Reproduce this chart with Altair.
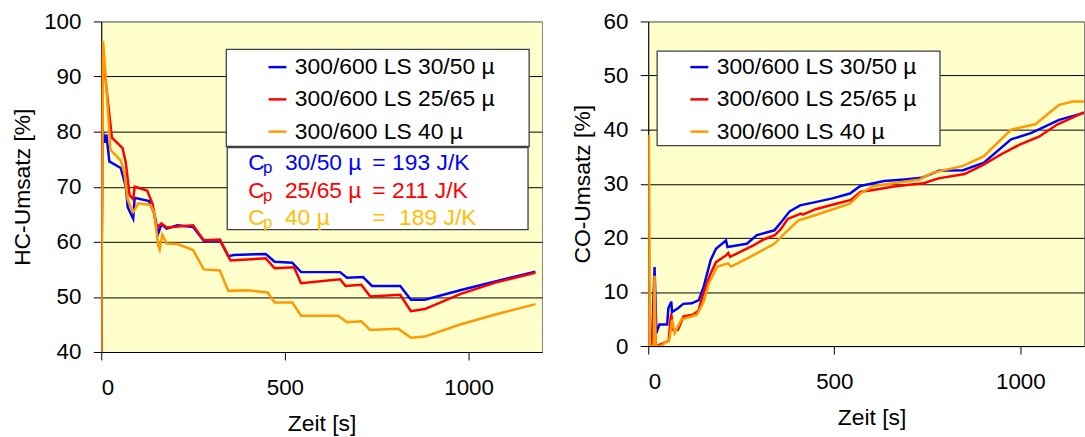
import altair as alt
import pandas as pd

FONT = "Liberation Sans"

S1 = "300/600 LS 30/50 µ"
S2 = "300/600 LS 25/65 µ"
S3 = "300/600 LS 40 µ"
SERIES = [S1, S2, S3]
COLORS = ["#0000FF", "#FF0000", "#FF9900"]

# ---- HC-Umsatz (left panel) ----
hc_t_blue = [0, 3, 10, 14, 22, 53, 67, 72, 87, 91, 130, 145, 155, 164, 178, 207, 250, 279, 323, 346, 361,
             448, 472, 520, 544, 650, 669, 713, 737, 814, 843, 881, 977, 1073, 1182]
hc_blue = [40, 80.6, 78, 79.5, 74.6, 73.4, 70, 66.3, 64.2, 68, 67.4, 65, 61.5, 63.2, 62.4, 63, 62.7, 60.2, 60.3,
           57.4, 57.6, 57.8, 56.4, 56.2, 54.5, 54.5, 53.5, 53.6, 52, 52, 49.5, 49.5, 51.2, 52.8, 54.6]

hc_t_red = [0, 4, 14, 29, 58, 67, 77, 87, 91, 125, 140, 150, 164, 178, 250, 279, 323, 352, 448, 472, 525, 544,
            650, 665, 708, 732, 814, 843, 881, 977, 1073, 1182]
hc_red = [40, 95, 88, 78.9, 77, 74.3, 68.5, 67.7, 70, 69.3, 66.8, 62.6, 63.3, 62.6, 63, 60.3, 60.4, 56.6, 57,
          55.2, 55.4, 52.5, 53.2, 52, 52.2, 50.1, 50.4, 47.4, 47.8, 50.5, 52.6, 54.4]

hc_t_orange = [0, 5, 11, 25, 53, 63, 72, 87, 101, 135, 145, 155, 159, 166, 178, 207, 250, 279, 323, 346, 400,
               453, 472, 520, 544, 645, 669, 708, 732, 809, 843, 881, 977, 1073, 1182]
hc_orange = [40, 96.5, 91, 76.7, 74.8, 72.5, 67.6, 65.4, 67, 66.7, 65, 59.3, 58.6, 61.3, 59.7, 59.6, 58.5, 55,
             54.8, 51.1, 51.2, 50.8, 49, 49, 46.6, 46.6, 45.4, 45.6, 44, 44.2, 42.6, 42.8, 45, 46.8, 48.7]

# ---- CO-Umsatz (right panel) ----
co_t_blue = [0, 10, 17, 22, 30, 51, 54, 62, 64, 80, 94, 117, 136, 149, 168, 182, 209, 213, 237, 265, 292, 339,
             357, 380, 408, 449, 495, 542, 570, 634, 689, 735, 781, 846, 902, 975, 1030, 1104, 1171]
co_blue = [0, 0, 14.6, 2.4, 4, 4, 7, 8.2, 6.3, 7, 7.8, 7.9, 8.5, 11, 15.9, 18, 19.5, 18.3, 18.6, 18.9, 20.5,
           21.4, 22.9, 24.9, 26, 26.6, 27.3, 28.2, 29.6, 30.5, 30.8, 31.1, 32.4, 32.5, 33.9, 38.2, 39.4, 41.8, 43.1]

co_t_red = [0, 2, 5, 12, 17, 20, 40, 55, 60, 62, 66, 80, 95, 120, 135, 145, 165, 182, 210, 215, 220, 250, 280,
            310, 340, 355, 375, 410, 415, 450, 500, 545, 570, 600, 660, 700, 740, 780, 850, 900, 950, 1000,
            1050, 1100, 1171]
co_red = [0, 8, 0, 0, 13, 0, 0.5, 1, 5, 6, 3, 3, 5.5, 5.8, 6.5, 9, 13, 15.5, 16.8, 17.2, 16.5, 17.5, 18.5,
          19.7, 20.5, 21.5, 23.5, 24.5, 24.3, 25.3, 26.2, 27, 28.5, 28.8, 29.5, 29.8, 30.1, 31, 31.8, 33.5,
          35.5, 37.3, 38.7, 41, 43.2]

co_t_orange = [0, 2, 5, 15, 17, 20, 34, 57, 64, 71, 89, 131, 149, 163, 186, 214, 223, 274, 339, 366, 403, 458,
               542, 570, 606, 730, 763, 846, 902, 975, 1040, 1104, 1141, 1171]
co_orange = [0, 39, 0, 0, 13, 0, 0, 1.2, 4.9, 2.4, 4.9, 5.8, 8.2, 11.6, 14.7, 15.3, 14.7, 16.5, 18.9, 20.8,
             23.2, 24.4, 26.3, 28.2, 29.6, 30.8, 32, 33.3, 35.1, 40, 41, 44.6, 45.2, 45.2]

# ---- annotation (heat capacities) ----
cp_rows = [("30/50 µ", "193 J/K"), ("25/65 µ", "211 J/K"), ("40 µ", "189 J/K")]
cp_colors = ["#0000FF", "#FF0000", "#FFC000"]


def series_df(ts, vs, name, k):
    return pd.DataFrame({"t": ts, "v": vs, "s": name, "k": k})


hc = pd.concat([series_df(hc_t_blue, hc_blue, S1, 0), series_df(hc_t_red, hc_red, S2, 1),
                series_df(hc_t_orange, hc_orange, S3, 2)], ignore_index=True)
co = pd.concat([series_df(co_t_blue, co_blue, S1, 0), series_df(co_t_red, co_red, S2, 1),
                series_df(co_t_orange, co_orange, S3, 2)], ignore_index=True)

color_scale = alt.Scale(domain=SERIES, range=COLORS)


def make_legend(x):
    return alt.Legend(title=None, orient="none", legendX=x, legendY=34.5, symbolType="stroke",
                      symbolSize=324, symbolStrokeWidth=2.5, labelFontSize=23, labelFont=FONT,
                      labelColor="black", labelOffset=6, labelLimit=500, rowPadding=8.5, padding=0)


def xenc(domain, width_title_x=None):
    kw = dict(values=[0, 500, 1000], title="Zeit [s]", format="d")
    if width_title_x is not None:
        kw["titleX"] = width_title_x
    return alt.X("t:Q", scale=alt.Scale(domain=domain, nice=False, zero=False), axis=alt.Axis(**kw))


def yenc(lo, hi, title):
    grid_color = {"condition": {"test": f"datum.value >= {hi}", "value": "#808080"}, "value": "black"}
    return alt.Y("v:Q", scale=alt.Scale(domain=[lo, hi], nice=False, zero=False),
                 axis=alt.Axis(values=list(range(lo, hi + 1, 10)), title=title, grid=True,
                               gridColor=grid_color))


# ---- left panel ----
LX = [0, 1200]
box_left = pd.DataFrame({"t": [340.5, 343], "t2": [1165, 1162], "v": [94.95, 77.1], "v2": [77.3, 62.2]})
boxes_l = alt.Chart(box_left).mark_rect(fill="white", stroke="#404040", strokeWidth=1.3).encode(
    x=xenc(LX), x2="t2:Q", y=yenc(40, 100, "HC-Umsatz [%]"), y2="v2:Q")

hc_lines = alt.Chart(hc).mark_line(strokeWidth=2.5, clip=True).encode(
    x=xenc(LX), y=yenc(40, 100, "HC-Umsatz [%]"),
    color=alt.Color("s:N", scale=color_scale, legend=make_legend(166), sort=SERIES),
    detail="k:N")

# text rows of the heat capacity box, placed in data units
row_base = [72.97, 67.89, 63.03]
ann = []
for i, (lab, val) in enumerate(cp_rows):
    c = cp_colors[i]
    y = row_base[i]
    ann.append({"t": 400, "v": y, "txt": "C", "c": c, "fs": 23})
    ann.append({"t": 440.5, "v": y - 0.5, "txt": "p", "c": c, "fs": 17})
    ann.append({"t": 500, "v": y, "txt": lab, "c": c, "fs": 23})
    ann.append({"t": 737.8, "v": y, "txt": "=", "c": c, "fs": 23})
    ann.append({"t": 810.8 if i == 2 else 791.9, "v": y, "txt": val, "c": c, "fs": 23})
ann = pd.DataFrame(ann)
cp_text = alt.Chart(ann).mark_text(align="left", baseline="alphabetic", font=FONT).encode(
    x=xenc(LX), y=yenc(40, 100, "HC-Umsatz [%]"), text="txt:N",
    fill=alt.Fill("c:N", scale=None), size=alt.Size("fs:Q", scale=None))

left = alt.layer(boxes_l, hc_lines, cp_text).properties(width=444, height=333)

# ---- right panel ----
RX = [0, 1171]
box_right = pd.DataFrame({"t": [24], "t2": [784], "v": [54.5], "v2": [37.06]})
boxes_r = alt.Chart(box_right).mark_rect(fill="white", stroke="#404040", strokeWidth=1.3).encode(
    x=xenc(RX, 225), x2="t2:Q", y=yenc(0, 60, "CO-Umsatz [%]"), y2="v2:Q")
co_lines = alt.Chart(co).mark_line(strokeWidth=2.5, clip=True).encode(
    x=xenc(RX, 225), y=yenc(0, 60, "CO-Umsatz [%]"),
    color=alt.Color("s:N", scale=color_scale, legend=make_legend(40), sort=SERIES),
    detail="k:N")

right = alt.layer(boxes_r, co_lines).properties(width=439, height=327)

chart = alt.hconcat(left, right, spacing=27).resolve_legend(color="independent").properties(
    padding={"left": 11, "top": 8, "right": 0, "bottom": 0}
).configure_view(fill="#FFFFCC", stroke="#808080", strokeWidth=1).configure_axis(
    labelFont=FONT, titleFont=FONT, labelFontSize=22.5, titleFontSize=23, titleFontWeight="normal",
    labelColor="black", titleColor="black", domainColor="black", tickColor="black", tickSize=8,
    gridWidth=1, domainWidth=1
).configure_axisX(grid=False, labelPadding=17, titlePadding=13.5).configure_axisY(
    labelPadding=12.5, titlePadding=9)

chart.save("out.html", embed_options={"renderer": "svg", "actions": False})
